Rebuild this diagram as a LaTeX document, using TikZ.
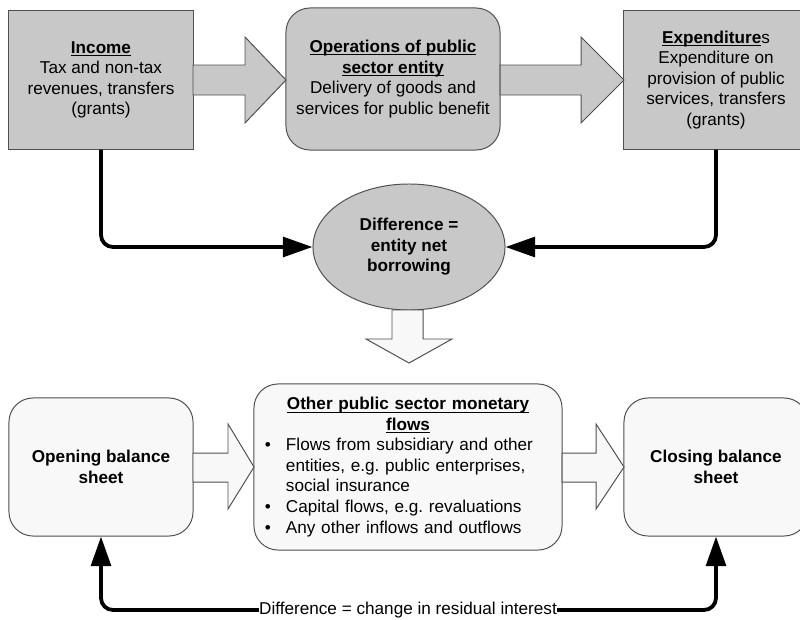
\documentclass[tikz,border=0pt]{standalone}
\usepackage{fontspec}
\setmainfont{Liberation Sans}
\usetikzlibrary{shapes.geometric,arrows.meta}
\definecolor{boxgray}{RGB}{200,200,200}
\definecolor{boxwhite}{RGB}{248,248,248}
\definecolor{edgegray}{RGB}{80,80,80}
\tikzset{
  flowbox/.style={draw=edgegray,line width=0.7pt,fill=boxgray,inner sep=0pt,align=center,
    font=\fontsize{12.2}{14.6}\selectfont},
  roundbox/.style={flowbox,rounded corners=0.6cm},
  sheetbox/.style={roundbox,fill=boxwhite,font=\fontsize{12.2}{14.6}\selectfont\bfseries},
  blockarrow/.style={draw=edgegray,line width=0.7pt,fill=#1},
  flowline/.style={line width=2.7pt,rounded corners=0.3cm,-{Triangle[length=21pt,width=14pt]}}
}
\newcommand{\uhead}[1]{\underline{\raisebox{0pt}[\height][0pt]{\textbf{#1}}}}
\newcommand{\flowitem}[1]{\makebox[0.475cm][l]{\hspace*{-0.05cm}\textbullet}#1}
\newcommand{\flowcont}[1]{\hspace*{0.475cm}#1}
\begin{document}
\begin{tikzpicture}[x=0.025cm,y=-0.025cm]
\clip (0,0) rectangle (800,619);
\fill[white] (0,0) rectangle (800,619);
% top row
\node[flowbox,minimum width=4.6cm,minimum height=3.45cm] (income) at (101,80)
  {\uhead{Income}\\Tax and non-tax\\revenues, transfers\\(grants)};
\node[roundbox,minimum width=5.35cm,minimum height=3.55cm] (operations) at (393,79)
  {\uhead{Operations of public}\\\uhead{sector entity}\\Delivery of goods and\\services for public benefit};
\node[flowbox,minimum width=4.6cm,minimum height=3.45cm] (expend) at (716,80)
  {\uhead{Expenditure}s\\Expenditure on\\provision of public\\services, transfers\\(grants)};
\draw[blockarrow=boxgray] (193,65) -- (245,65) -- (245,37) -- (286,80) -- (245,123) -- (245,95) -- (193,95) -- cycle;
\draw[blockarrow=boxgray] (500,65) -- (581,65) -- (581,37) -- (624,80) -- (581,123) -- (581,95) -- (500,95) -- cycle;
% net borrowing
\node[flowbox,ellipse,minimum width=4.8cm,minimum height=3.15cm,font=\fontsize{12.2}{14.6}\selectfont\bfseries] (borrow) at (409,247)
  {Difference =\\entity net\\borrowing};
\draw[flowline] (income.south) |- (borrow.west);
\draw[flowline] (expend.south) |- (borrow.east);
\draw[blockarrow=boxwhite] (392,310) -- (392,339) -- (366,339) -- (409,363) -- (452,339) -- (423,339) -- (423,310) -- cycle;
% bottom row
\node[sheetbox,minimum width=4.6cm,minimum height=3.45cm] (opening) at (101,467) {Opening balance\\sheet};
\node[roundbox,fill=boxwhite,minimum width=7.7cm,minimum height=4.15cm,inner xsep=0.325cm,text width=7.05cm,align=left] (other) at (408,467)
  {\makebox[\linewidth][c]{\uhead{Other public sector monetary}}\\
   \makebox[\linewidth][c]{\uhead{flows}}\\
   \flowitem{Flows from subsidiary and other}\\
   \flowcont{entities, e.g.\ public enterprises,}\\
   \flowcont{social insurance}\\
   \flowitem{Capital flows, e.g.\ revaluations}\\
   \flowitem{Any other inflows and outflows}};
\node[sheetbox,minimum width=4.6cm,minimum height=3.45cm] (closing) at (716,467) {Closing balance\\sheet};
\draw[blockarrow=boxwhite] (193,453) -- (228,453) -- (228,424) -- (254,467) -- (228,509) -- (228,482) -- (193,482) -- cycle;
\draw[blockarrow=boxwhite] (562,453) -- (596,453) -- (596,424) -- (624,467) -- (596,509) -- (596,482) -- (562,482) -- cycle;
% residual interest
\node[inner sep=0pt,font=\fontsize{12.2}{14.6}\selectfont] (residual) at (408,610) {Difference = change in residual interest};
\draw[flowline] (residual.west) -| (opening.south);
\draw[flowline] (residual.east) -| (closing.south);
\end{tikzpicture}
\end{document}
